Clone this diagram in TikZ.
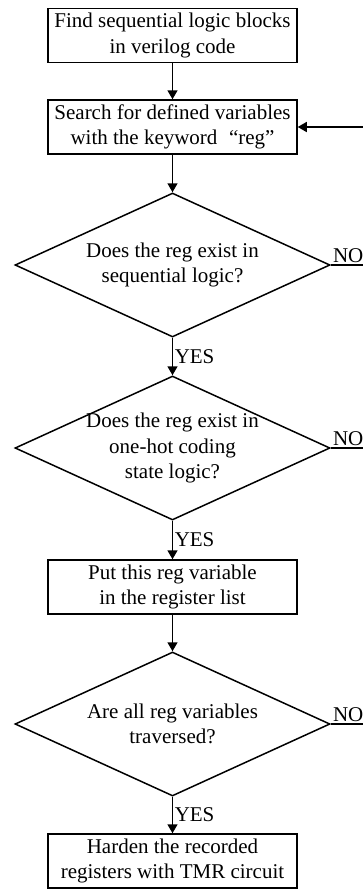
\documentclass[tikz,border=0pt]{standalone}
\usepackage{fontspec}
\setmainfont{Liberation Serif}
\usetikzlibrary{shapes.geometric,arrows.meta}
\begin{document}
\begin{tikzpicture}[x=1pt,y=-1pt,
  font=\fontsize{21}{25.5}\selectfont,
  line width=1.5pt,
  stepbox/.style={draw,rectangle,minimum width=249pt,minimum height=54pt,
    inner sep=0pt,align=center},
  decision/.style={draw,diamond,minimum width=315pt,minimum height=144pt,
    inner sep=0pt},
  label text/.style={inner sep=0pt,align=center},
  flow/.style={-{Triangle[length=9pt,width=10pt]}},
  tag/.style={inner sep=1.5pt}]
\clip (0,0) rectangle (363,889);

% process steps
\node[stepbox] (find)   at (172.5,35.5) {Find sequential logic blocks\\in verilog code};
\node[stepbox] (search) at (172.5,127)  {Search for defined variables\\with the keyword\hspace{0.55em}“reg”};
\node[stepbox] (put)    at (172.5,587)  {Put this reg variable\\in the register list};
\node[stepbox] (harden) at (172.5,861)  {Harden the recorded\\registers with TMR circuit};

% decisions
\node[decision] (seq) at (172.5,265) {};
\node[label text] at (seq) {Does the reg exist in\\sequential logic?};
\node[decision] (hot) at (172.5,448) {};
\node[label text] at (hot) {Does the reg exist in\\one-hot coding\\state logic?};
\node[decision] (all) at (172.5,724) {};
\node[label text] at (all) {Are all reg variables\\traversed?};

% main flow
\draw[flow] (find) -- (search);
\draw[flow] (search) -- (seq);
\draw[flow] (seq) -- node[tag,anchor=west] (y1) {YES} (hot);
\draw[flow] (hot) -- node[tag,anchor=west] (y2) {YES} (put);
\draw[flow] (put) -- (all);
\draw[flow] (all) -- node[tag,anchor=west] (y3) {YES} (harden);

% "NO" branches back to the search step
\coordinate (r0) at (375,127);
\coordinate (r1) at (375,265);
\coordinate (r2) at (375,448);
\coordinate (r3) at (375,724);
\draw (seq.east) -- node[tag,anchor=south west,pos=0] (n1) {NO} (r1);
\draw (hot.east) -- node[tag,anchor=south west,pos=0] (n2) {NO} (r2);
\draw[flow] (all.east) -- node[tag,anchor=south west,pos=0] (n3) {NO} (r3) -- (r0) -- (search.east);
\end{tikzpicture}
\end{document}
